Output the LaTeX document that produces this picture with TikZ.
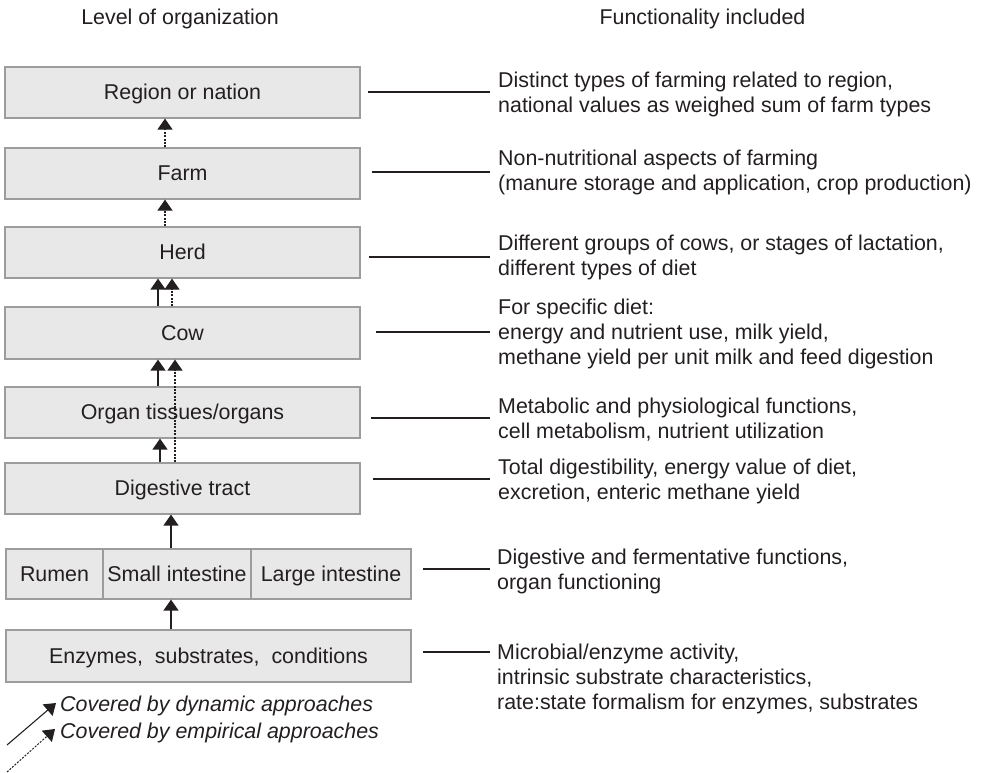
\documentclass[tikz,border=0pt]{standalone}
\usepackage{fontspec}
\setmainfont{Liberation Sans}
\usetikzlibrary{arrows.meta}
\definecolor{boxfill}{HTML}{E8E8E8}
\definecolor{boxline}{HTML}{9C9C9C}
\definecolor{ink}{HTML}{231F20}
\newcommand{\bodyfont}{\fontsize{21.4}{25}\selectfont}
\begin{document}
\begin{tikzpicture}[x=1pt,y=-1pt,font=\bodyfont,text=ink,
  lvl/.style={draw=boxline,fill=boxfill,line width=1.2pt,minimum height=51pt,inner sep=0pt,text height=14pt,text depth=0pt},
  desc/.style={anchor=west,align=left,inner xsep=8pt,inner ysep=0pt},
  tick/.style={draw=ink,line width=1.1pt},
  dyn/.style={draw=ink,line width=1.4pt,-{Triangle[width=15pt,length=11pt]}},
  emp/.style={draw=ink,line width=1.2pt,dash pattern=on 2pt off 1.4pt,-{Triangle[width=15pt,length=11pt]}},
  legtext/.style={anchor=west,inner sep=0pt,font=\bodyfont\itshape}]
\useasboundingbox (0,0) rectangle (981,772);

% headers
\node (hleft) at (180,19) {Level of organization};
\node (hright) at (702.5,19) {Functionality included};

% level boxes
\node[lvl,minimum width=355pt] (region) at (182.5,92.5) {Region or nation};
\node[lvl,minimum width=355pt] (farm) at (182.5,173.5) {Farm};
\node[lvl,minimum width=355pt] (herd) at (182.5,252.5) {Herd};
\node[lvl,minimum width=355pt,minimum height=52pt] (cow) at (182.5,333) {Cow};
\node[lvl,minimum width=355pt] (organ) at (182.5,412.5) {Organ tissues/organs};
\node[lvl,minimum width=355pt] (digest) at (182.5,488.5) {Digestive tract};
\node[lvl,minimum width=97pt,minimum height=50pt] (rumen) at (54.5,574) {Rumen};
\node[lvl,minimum width=148pt,minimum height=50pt] (small) at (177,574) {Small intestine};
\node[lvl,minimum width=160pt,minimum height=50pt] (large) at (331,574) {Large intestine};
\node[lvl,minimum width=405pt,minimum height=52pt] (enz) at (208.5,656) {Enzymes,\ \ substrates,\ \ conditions};

% arrows between levels
\draw[emp] ([xshift=-17.5pt]farm.north) -- ([xshift=-17.5pt]region.south);
\draw[emp] ([xshift=-17.5pt]herd.north) -- ([xshift=-17.5pt]farm.south);
\draw[dyn] ([xshift=-24.5pt]cow.north) -- ([xshift=-24.5pt]herd.south);
\draw[emp] ([xshift=-10.5pt]cow.north) -- ([xshift=-10.5pt]herd.south);
\draw[dyn] ([xshift=-24.5pt]organ.north) -- ([xshift=-24.5pt]cow.south);
\draw[dyn] ([xshift=-22.5pt]digest.north) -- ([xshift=-22.5pt]organ.south);
\draw[emp] ([xshift=-7.5pt]digest.north) -- ([xshift=-7.5pt]cow.south);
\draw[dyn] ([xshift=-6pt]small.north) -- ([xshift=-11.5pt]digest.south);
\draw[dyn] ([xshift=-37.5pt]enz.north) -- ([xshift=-6pt]small.south);

% functionality descriptions
\node[desc] (t1) at (490,94.5) {Distinct types of farming related to region,\\national values as weighed sum of farm types};
\node[desc] (t2) at (490,172.5) {Non-nutritional aspects of farming\\(manure storage and application, crop production)};
\node[desc] (t3) at (490,257) {Different groups of cows, or stages of lactation,\\different types of diet};
\node[desc] (t4) at (490,334) {For specific diet:\\energy and nutrient use, milk yield,\\methane yield per unit milk and feed digestion};
\node[desc] (t5) at (490,419.5) {Metabolic and physiological functions,\\cell metabolism, nutrient utilization};
\node[desc] (t6) at (490,481.5) {Total digestibility, energy value of diet,\\excretion, enteric methane yield};
\node[desc,inner xsep=7pt] (t7) at (490,571.5) {Digestive and fermentative functions,\\organ functioning};
\node[desc,inner xsep=7pt] (t8) at (490,679) {Microbial/enzyme activity,\\intrinsic substrate characteristics,\\rate:state formalism for enzymes, substrates};

\coordinate (s1) at (368,92);
\coordinate (s2) at (372,172);
\coordinate (s3) at (369,257);
\coordinate (s4) at (376,332);
\coordinate (s5) at (371,418);
\coordinate (s6) at (373,479);
\coordinate (s7) at (423,569);
\coordinate (s8) at (423,652);
\draw[tick] (s1) -- (s1 -| t1.west);
\draw[tick] (s2) -- (s2 -| t2.west);
\draw[tick] (s3) -- (s3 -| t3.west);
\draw[tick] (s4) -- (s4 -| t4.west);
\draw[tick] (s5) -- (s5 -| t5.west);
\draw[tick] (s6) -- (s6 -| t6.west);
\draw[tick] (s7) -- (s7 -| t7.west);
\draw[tick] (s8) -- (s8 -| t8.west);

% legend
\node[legtext] (leg1) at (60,706) {Covered by dynamic approaches};
\node[legtext] (leg2) at (60,733) {Covered by empirical approaches};
\coordinate (a1) at (7,745);
\coordinate (a1e) at (56,703);
\coordinate (a2) at (7,772);
\coordinate (a2e) at (55,729);
\draw[dyn,line width=1.1pt] (a1) -- (a1e);
\draw[emp,line width=1pt] (a2) -- (a2e);
\end{tikzpicture}
\end{document}
